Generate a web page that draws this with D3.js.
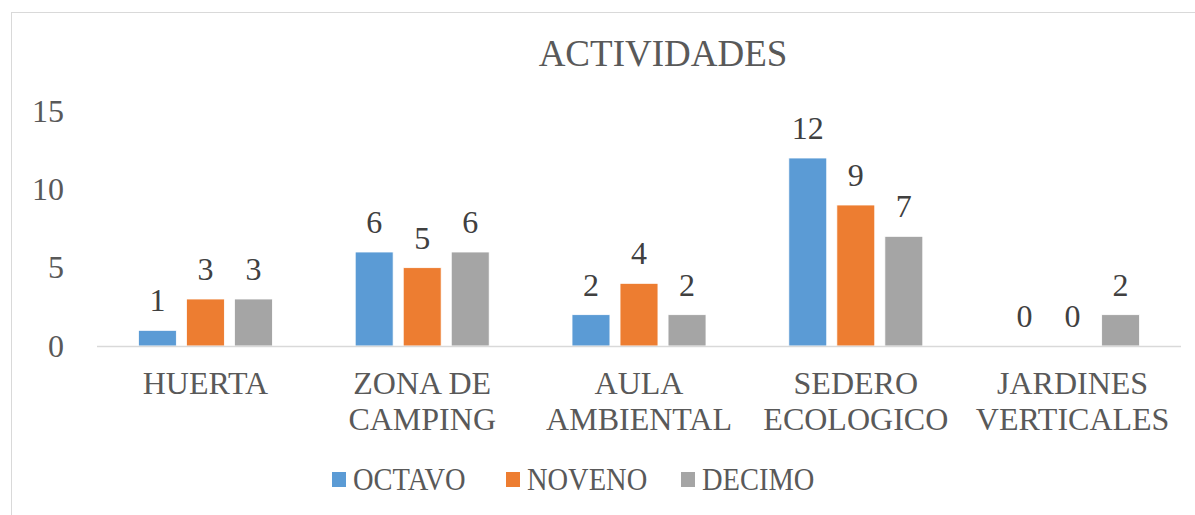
<!DOCTYPE html>
<html>
<head>
<meta charset="utf-8">
<script src="https://cdn.jsdelivr.net/npm/d3@7"></script>
<style>
  body { margin: 0; background: #fff; }
  svg text { font-family: "Liberation Serif", "Times New Roman", serif; }
</style>
</head>
<body>
<script>
// chart data
const categories = [["HUERTA"], ["ZONA DE", "CAMPING"], ["AULA", "AMBIENTAL"], ["SEDERO", "ECOLOGICO"], ["JARDINES", "VERTICALES"]];
const seriesNames = ["OCTAVO", "NOVENO", "DECIMO"];
const octavo = [1, 6, 2, 12, 0];
const noveno = [3, 5, 4, 9, 0];
const decimo = [3, 6, 2, 7, 2];
const yTicks = [0, 5, 10, 15];
const seriesColors = ["#5b9bd5", "#ed7d31", "#a5a5a5"];

const width = 1195, height = 515;
const values = [octavo, noveno, decimo];

const svg = d3.select('body').append('svg')
  .attr('width', width)
  .attr('height', height);

// outer chart border
svg.append('rect')
  .attr('x', 11.5).attr('y', 12.5)
  .attr('width', 1400).attr('height', 600)
  .attr('fill', 'none')
  .attr('stroke', '#d9d9d9');

const plot = { left: 97, right: 1181, top: 111, bottom: 346 };

const x0 = d3.scaleBand()
  .domain(d3.range(categories.length))
  .range([plot.left, plot.right])
  .paddingInner(0.382)
  .paddingOuter(0.191);

const x1 = d3.scaleBand()
  .domain(d3.range(seriesNames.length))
  .range([0, x0.bandwidth()])
  .paddingInner(0.21);

const y = d3.scaleLinear().domain([0, 15]).range([plot.bottom, plot.top]);

// title
svg.append('text')
  .attr('x', 663).attr('y', 66)
  .attr('text-anchor', 'middle')
  .attr('font-size', 37)
  .attr('fill', '#595959')
  .text('ACTIVIDADES');

// y axis labels
const yAxis = d3.axisLeft(y).tickValues(yTicks).tickSize(0).tickPadding(0);
const yg = svg.append('g')
  .attr('transform', 'translate(64,0)')
  .call(yAxis);
yg.select('.domain').remove();
yg.selectAll('text')
  .attr('font-size', 32)
  .attr('fill', '#595959');

// bars
const groups = svg.append('g').selectAll('g')
  .data(categories)
  .join('g')
  .attr('transform', (d, i) => `translate(${x0(i)},0)`);

groups.selectAll('rect')
  .data((d, i) => values.map((s, j) => ({ s: j, v: s[i] })))
  .join('rect')
  .attr('x', d => x1(d.s))
  .attr('y', d => y(d.v))
  .attr('width', x1.bandwidth())
  .attr('height', d => y(0) - y(d.v))
  .attr('fill', d => seriesColors[d.s])
  .attr('stroke', '#fff')
  .attr('stroke-width', 0.8);

groups.selectAll('text.val')
  .data((d, i) => values.map((s, j) => ({ s: j, v: s[i] })))
  .join('text')
  .attr('class', 'val')
  .attr('x', d => x1(d.s) + x1.bandwidth() / 2)
  .attr('y', d => y(d.v) - 19)
  .attr('text-anchor', 'middle')
  .attr('font-size', 32)
  .attr('fill', '#404040')
  .text(d => d.v);

// x axis line
svg.append('line')
  .attr('x1', plot.left).attr('x2', plot.right)
  .attr('y1', y(0) + 0.5).attr('y2', y(0) + 0.5)
  .attr('stroke', '#d9d9d9')
  .attr('stroke-width', 1.5);

// category labels
const catLabels = svg.append('g').selectAll('text')
  .data(categories)
  .join('text')
  .attr('text-anchor', 'middle')
  .attr('font-size', 32)
  .attr('fill', '#595959')
  .attr('x', (d, i) => x0(i) + x0.bandwidth() / 2)
  .attr('y', 394);
catLabels.selectAll('tspan')
  .data(d => d)
  .join('tspan')
  .attr('x', function () { return this.parentNode.getAttribute('x'); })
  .attr('dy', (d, i) => i === 0 ? 0 : 36)
  .text(d => d);

// legend
const legendX = [332, 506, 681];
const legend = svg.append('g').selectAll('g')
  .data(seriesNames)
  .join('g')
  .attr('transform', (d, i) => `translate(${legendX[i]},472)`);
legend.append('rect')
  .attr('width', 14).attr('height', 15)
  .attr('fill', (d, i) => seriesColors[i]);
legend.append('text')
  .attr('transform', 'translate(21,18) scale(0.89,1)')
  .attr('font-size', 32)
  .attr('fill', '#595959')
  .text(d => d);
</script>
</body>
</html>
